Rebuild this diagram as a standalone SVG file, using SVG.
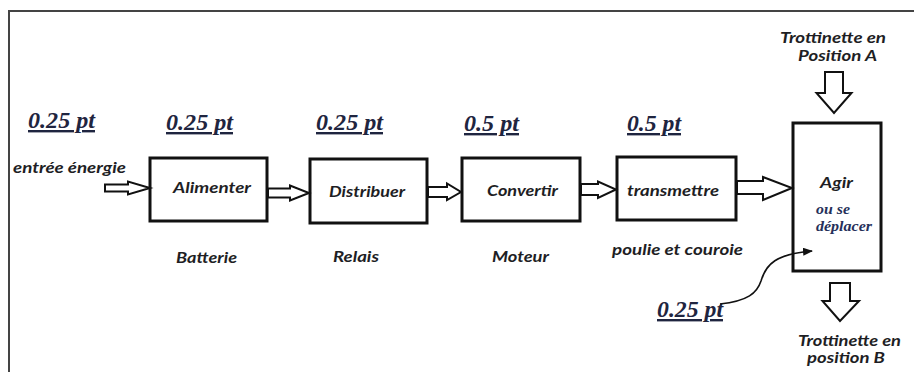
<svg xmlns="http://www.w3.org/2000/svg" width="914" height="372" viewBox="0 0 914 372">
<style>
.frame{fill:none;stroke:#444;stroke-width:2}
.box{fill:#fff;stroke:#111;stroke-width:3}
.harrow{fill:#fff;stroke:#111;stroke-width:2;stroke-linejoin:miter}
.lbl{font-family:Lato,'Liberation Sans',sans-serif;font-weight:bold;font-style:italic;font-size:15px;fill:#1e1e24}
.pt{font-family:'Liberation Serif','Times New Roman',serif;font-weight:bold;font-style:italic;font-size:24px;fill:#1f2540;text-decoration:underline}
.ser{font-family:'Liberation Serif','Times New Roman',serif;font-weight:bold;font-style:italic;font-size:14px;fill:#26305a}
.curve{fill:none;stroke:#111;stroke-width:1.6}
</style>
<defs>
<marker id="ah" markerWidth="10" markerHeight="8" refX="9" refY="4" orient="auto" markerUnits="userSpaceOnUse">
<path d="M0,0 L10,4 L0,8 Z" fill="#111"/>
</marker>
</defs>
<rect class="frame" x="9" y="11" width="920" height="380"/>

<g id="scores">
<text class="pt" x="28" y="128" textLength="67" lengthAdjust="spacingAndGlyphs">0.25 pt</text>
<text class="pt" x="166" y="130" textLength="67" lengthAdjust="spacingAndGlyphs">0.25 pt</text>
<text class="pt" x="316" y="130" textLength="67" lengthAdjust="spacingAndGlyphs">0.25 pt</text>
<text class="pt" x="464" y="131" textLength="55" lengthAdjust="spacingAndGlyphs">0.5 pt</text>
<text class="pt" x="627" y="131" textLength="54" lengthAdjust="spacingAndGlyphs">0.5 pt</text>
<text class="pt" x="657" y="317" textLength="66" lengthAdjust="spacingAndGlyphs">0.25 pt</text>
</g>

<g id="input">
<text class="lbl" x="13" y="173" textLength="113" lengthAdjust="spacingAndGlyphs">entrée énergie</text>
</g>

<g id="alimenter">
<rect class="box" x="150" y="158" width="117" height="63"/>
<text class="lbl" x="173" y="193" textLength="78" lengthAdjust="spacingAndGlyphs">Alimenter</text>
<text class="lbl" x="176" y="263" textLength="61" lengthAdjust="spacingAndGlyphs">Batterie</text>
</g>

<g id="distribuer">
<rect class="box" x="310" y="159" width="117" height="64"/>
<text class="lbl" x="329" y="197" textLength="76" lengthAdjust="spacingAndGlyphs">Distribuer</text>
<text class="lbl" x="333" y="262" textLength="46" lengthAdjust="spacingAndGlyphs">Relais</text>
</g>

<g id="convertir">
<rect class="box" x="462" y="158" width="118" height="63"/>
<text class="lbl" x="487" y="196" textLength="71" lengthAdjust="spacingAndGlyphs">Convertir</text>
<text class="lbl" x="492" y="262" textLength="57" lengthAdjust="spacingAndGlyphs">Moteur</text>
</g>

<g id="transmettre">
<rect class="box" x="617" y="157" width="119" height="63"/>
<text class="lbl" x="627" y="196" textLength="92" lengthAdjust="spacingAndGlyphs">transmettre</text>
<text class="lbl" x="612" y="255" textLength="131" lengthAdjust="spacingAndGlyphs">poulie et couroie</text>
</g>

<g id="agir">
<rect class="box" x="793" y="123" width="88" height="148"/>
<text class="lbl" x="820" y="188" textLength="33" lengthAdjust="spacingAndGlyphs">Agir</text>
<text class="ser" x="816" y="214" textLength="34" lengthAdjust="spacingAndGlyphs">ou se</text>
<text class="ser" x="816" y="231" textLength="56" lengthAdjust="spacingAndGlyphs">déplacer</text>
</g>

<g id="positionA">
<text class="lbl" x="780" y="43" font-size="14" textLength="106" lengthAdjust="spacingAndGlyphs">Trottinette en</text>
<text class="lbl" x="798" y="61" font-size="14" textLength="79" lengthAdjust="spacingAndGlyphs">Position A</text>
</g>

<g id="positionB">
<text class="lbl" x="798" y="346" font-size="14" textLength="103" lengthAdjust="spacingAndGlyphs">Trottinette en</text>
<text class="lbl" x="807" y="363" font-size="14" textLength="78" lengthAdjust="spacingAndGlyphs">position B</text>
</g>

<g id="connectors">
<path class="harrow" d="M105,184.5 L128,184.5 L128,181.5 L150,188 L128,194.5 L128,191.5 L105,191.5 Z"/>
<path class="harrow" d="M268,188.5 L290,188.5 L290,185.5 L309,193 L290,200.5 L290,197.5 L268,197.5 Z"/>
<path class="harrow" d="M428,187 L447,187 L447,183.5 L461,192 L447,200 L447,197 L428,197 Z"/>
<path class="harrow" d="M581,184 L598,184 L598,181.5 L616,189.5 L598,198 L598,195 L581,195 Z"/>
<path class="harrow" d="M737,181 L763,181 L763,177 L792,188 L763,200 L763,194 L737,194 Z"/>
<path class="harrow" d="M825,72 L843,72 L843,93 L851.5,93 L834,113 L816.5,93 L825,93 Z"/>
<path class="harrow" d="M830,283 L850,283 L850,301 L859,301 L840,321 L822.5,301 L830,301 Z"/>
<path class="curve" d="M720,304 C748,301 757,293 761,281 C766,264 776,254 812,251" marker-end="url(#ah)"/>
</g>
</svg>
